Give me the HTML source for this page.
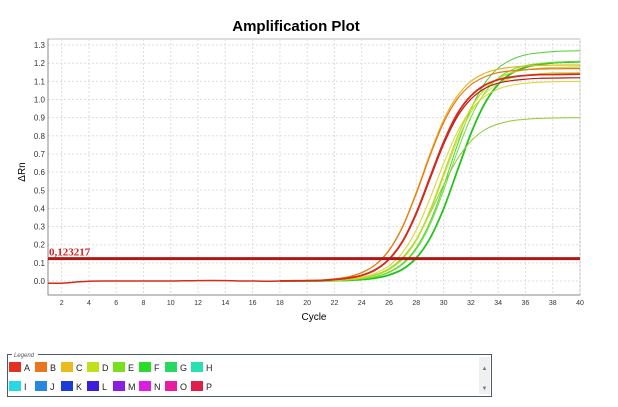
<!DOCTYPE html>
<html><head><meta charset="utf-8"><style>
body{margin:0;background:#fff;width:618px;height:402px;overflow:hidden;font-family:"Liberation Sans",sans-serif}
</style></head><body>
<svg width="618" height="402" xmlns="http://www.w3.org/2000/svg">
<g id="grid"></g>
<g id="axes"></g>
<g id="series"></g>
<g id="thr"></g>
<text x="296" y="31" text-anchor="middle" font-size="15" font-weight="bold">Amplification Plot</text>
<text x="314" y="320" text-anchor="middle" font-size="10">Cycle</text>
<text x="0" y="0" transform="translate(25,172) rotate(-90)" text-anchor="middle" font-size="10">ΔRn</text>
<g>
<rect x="7.5" y="354.5" width="484" height="42" fill="#fff" stroke="#4a5a6a"/>
<rect x="12" y="351" width="26" height="7" fill="#fff"/>
<text x="14" y="357" font-size="6" font-style="italic" fill="#555">Legend</text>
<rect x="479" y="357" width="11" height="37" fill="#f0f0f0"/>
<text x="484.5" y="370" font-size="6" text-anchor="middle" fill="#777">▲</text>
<text x="484.5" y="390" font-size="6" text-anchor="middle" fill="#777">▼</text>
<g id="leg"></g>
</g>
</svg>
<script>
const cycleTicks=[2,4,6,8,10,12,14,16,18,20,22,24,26,28,30,32,34,36,38,40];
const yTicks=[0.0,0.1,0.2,0.3,0.4,0.5,0.6,0.7,0.8,0.9,1.0,1.1,1.2,1.3];
const threshold=0.123217;
const baseline=[-0.012,-0.012,-0.006,-0.001,0,0,0,0,0,0,0.001,0.002,0.003,0.002,0,0,-0.001,0];
const startCycle=18;
const sA=[0,0.001,0.002,0.003,0.008,0.016,0.031,0.062,0.12,0.22,0.375,0.57,0.765,0.92,1.02,1.078,1.109,1.124,1.132,1.137,1.138,1.139,1.14];
const sB=[0.001,0.001,0.003,0.005,0.011,0.022,0.046,0.089,0.168,0.298,0.482,0.688,0.872,1.002,1.081,1.124,1.148,1.158,1.164,1.168,1.169,1.17,1.17];
const sC=[0.001,0.001,0.003,0.005,0.012,0.023,0.046,0.09,0.171,0.303,0.49,0.7,0.887,1.019,1.1,1.144,1.167,1.178,1.184,1.188,1.189,1.19,1.19];
const sD=[0,0.001,0.002,0.003,0.008,0.015,0.03,0.06,0.118,0.216,0.368,0.56,0.752,0.904,1.002,1.06,1.09,1.104,1.112,1.117,1.118,1.119,1.12];
const sF=[0,0.001,0.001,0.003,0.005,0.011,0.021,0.043,0.084,0.158,0.281,0.453,0.647,0.82,0.942,1.016,1.057,1.079,1.089,1.095,1.098,1.099,1.10];
const sG=[0,0,0.001,0.002,0.004,0.008,0.016,0.032,0.064,0.124,0.228,0.388,0.59,0.792,0.952,1.056,1.116,1.148,1.163,1.172,1.176,1.178,1.179];
const sH=[0,0,0.001,0.001,0.003,0.006,0.012,0.024,0.05,0.097,0.183,0.324,0.523,0.747,0.946,1.087,1.173,1.22,1.246,1.257,1.264,1.267,1.269];
const sI=[0,0,0.001,0.001,0.003,0.005,0.012,0.023,0.047,0.092,0.174,0.309,0.499,0.711,0.901,1.036,1.118,1.163,1.187,1.198,1.204,1.208,1.209];
const sJ=[0,0,0.001,0.002,0.004,0.009,0.017,0.035,0.068,0.13,0.23,0.371,0.529,0.671,0.77,0.832,0.865,0.883,0.891,0.896,0.898,0.899,0.9];
const sK=[0,0,0,0.001,0.002,0.004,0.008,0.016,0.033,0.065,0.127,0.234,0.398,0.605,0.812,0.976,1.083,1.145,1.177,1.193,1.202,1.206,1.208];
const sL=[0,0,0.001,0.002,0.003,0.008,0.016,0.031,0.062,0.121,0.222,0.378,0.575,0.772,0.928,1.029,1.088,1.119,1.134,1.142,1.147,1.148,1.149];
const seriesList=[[sH,"#4cd232",1],[sK,"#22c41a",1.8],[sI,"#6ede34",1],[sJ,"#8ccc30",1],[sL,"#c4e23c",1],[sG,"#b2dc26",1.2],[sF,"#dcd42a",1],[sC,"#e8b41c",1.2],[sB,"#e8761c",1.2],[sD,"#b81c12",1.2],[sA,"#d62a1a",1.8]];
const legendNames=["A","B","C","D","E","F","G","H","I","J","K","L","M","N","O","P"];
const legendColors=["#e0321e","#e8761e","#e8bc1e","#c0e01e","#78e01e","#28dc28","#28d860","#28e0b0","#28d8e8","#2888e0","#1e3cd8","#3c1ed8","#8c1ee0","#dc1ee0","#e81ea0","#e01e4c"];
const NS="http://www.w3.org/2000/svg";
const X0=48,X1=580,Y0=281,PER=18.15,YBOT=295,YTOP=39;
const xs=c=>X0+(c-1)*(X1-X0)/39;
const ys=v=>Y0-v*PER*10;
function mk(t,a,p){const e=document.createElementNS(NS,t);for(const k in a)e.setAttribute(k,a[k]);p.appendChild(e);return e;}
function smooth(pts){
 let d='M'+pts[0][0].toFixed(1)+','+pts[0][1].toFixed(1);
 for(let i=0;i<pts.length-1;i++){
  const p0=pts[i-1]||pts[i],p1=pts[i],p2=pts[i+1],p3=pts[i+2]||p2;
  const c1=[p1[0]+(p2[0]-p0[0])/6,p1[1]+(p2[1]-p0[1])/6];
  const c2=[p2[0]-(p3[0]-p1[0])/6,p2[1]-(p3[1]-p1[1])/6];
  d+='C'+c1[0].toFixed(1)+','+c1[1].toFixed(1)+' '+c2[0].toFixed(1)+','+c2[1].toFixed(1)+' '+p2[0].toFixed(1)+','+p2[1].toFixed(1);
 }
 return d;
}
const grid=document.getElementById('grid'),axes=document.getElementById('axes'),ser=document.getElementById('series');
mk('rect',{x:X0,y:YTOP,width:X1-X0,height:YBOT-YTOP,fill:'#fff',stroke:'#bbb'},grid);
cycleTicks.forEach(c=>{
 const l=mk('line',{x1:xs(c),x2:xs(c),y1:YTOP,y2:YBOT,stroke:'#ddd','stroke-dasharray':'2,2'},grid);
 
 
 const t=mk('text',{x:xs(c),y:305,'font-size':7,'text-anchor':'middle',fill:'#333'},axes);t.textContent=c;
 
 
});
yTicks.forEach(v=>{
 const l=mk('line',{x1:X0,x2:X1,y1:ys(v),y2:ys(v),stroke:'#ddd','stroke-dasharray':'2,2'},grid);
 
 
 const t=mk('text',{x:45,y:ys(v)+3,'font-size':8,'text-anchor':'end',fill:'#333'},axes);t.textContent=v.toFixed(1);
 
 
});
mk('line',{x1:X0,x2:X0,y1:YTOP,y2:YBOT,stroke:'#888'},axes);
mk('line',{x1:X0,x2:X1,y1:YBOT,y2:YBOT,stroke:'#888'},axes);
const bp=mk('path',{d:smooth(baseline.map((v,i)=>[xs(i+1),ys(v)])),fill:'none',stroke:'#d62a1a','stroke-width':1.5},ser);


seriesList.forEach(([arr,col,w],k)=>{
 const p=mk('path',{d:smooth(arr.map((v,i)=>[xs(startCycle+i),ys(v)])),fill:'none',stroke:col,'stroke-width':w,'stroke-linejoin':'round'},ser);
 
 
});
const thr=document.getElementById('thr');
const tl=mk('line',{x1:X0,x2:X1,y1:ys(threshold),y2:ys(threshold),stroke:'#b01818','stroke-width':3},thr);


const tt=mk('text',{x:X0+1,y:ys(threshold)-3,'font-size':11,'font-weight':'bold',fill:'#d42020','font-family':'Liberation Serif,serif'},thr);
tt.textContent='0,123217';


const leg=document.getElementById('leg');
legendNames.forEach((n,i)=>{
 const c=i%8,r=Math.floor(i/8),x=9+c*26,y=362+r*19;
 const s=mk('rect',{x:x,y:y,width:12,height:10,fill:legendColors[i]},leg);
 
 
 const t=mk('text',{x:x+15,y:y+9,'font-size':9,fill:'#222'},leg);t.textContent=n;
 
 
});
</script>
</body></html>
